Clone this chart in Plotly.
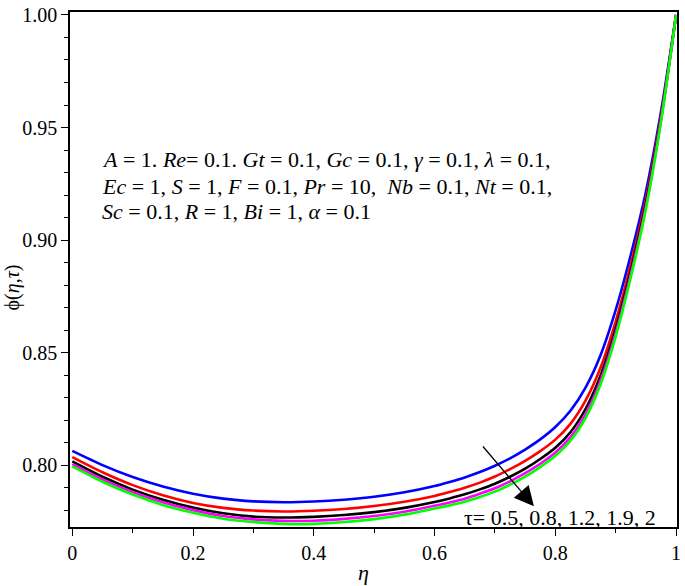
import plotly.graph_objects as go

eta = [0, 0.05, 0.1, 0.15, 0.2, 0.25, 0.3, 0.35, 0.4, 0.45, 0.5, 0.55, 0.6, 0.625, 0.65,
       0.675, 0.7, 0.725, 0.75, 0.775, 0.8, 0.825, 0.85, 0.875, 0.9, 0.925, 0.95, 0.975, 1.0]

phi_tau_05 = [0.8064, 0.8001, 0.7948, 0.7906, 0.7874, 0.7852, 0.7840, 0.7836, 0.7839, 0.7847,
              0.7860, 0.7880, 0.7908, 0.7926, 0.7946, 0.7970, 0.7998, 0.8031, 0.8070, 0.8115,
              0.8170, 0.8242, 0.8345, 0.8490, 0.8690, 0.8935, 0.9215, 0.9570, 1.0000]
phi_tau_08 = [0.8036, 0.7969, 0.7912, 0.7867, 0.7833, 0.7811, 0.7799, 0.7795, 0.7798, 0.7806,
              0.7819, 0.7838, 0.7864, 0.7881, 0.7900, 0.7923, 0.7950, 0.7983, 0.8020, 0.8063,
              0.8114, 0.8184, 0.8287, 0.8434, 0.8639, 0.8892, 0.9182, 0.9551, 1.0000]
phi_tau_12 = [0.8017, 0.7949, 0.7892, 0.7847, 0.7812, 0.7787, 0.7772, 0.7768, 0.7771, 0.7779,
              0.7792, 0.7811, 0.7837, 0.7853, 0.7871, 0.7893, 0.7918, 0.7949, 0.7985, 0.8028,
              0.8078, 0.8147, 0.8250, 0.8399, 0.8607, 0.8865, 0.9161, 0.9539, 1.0000]
phi_tau_19 = [0.8005, 0.7937, 0.7881, 0.7836, 0.7801, 0.7775, 0.7760, 0.7753, 0.7754, 0.7762,
              0.7775, 0.7794, 0.7820, 0.7835, 0.7852, 0.7874, 0.7898, 0.7929, 0.7965, 0.8007,
              0.8057, 0.8125, 0.8227, 0.8377, 0.8587, 0.8848, 0.9148, 0.9532, 1.0000]
phi_tau_2 = [0.7995, 0.7927, 0.7870, 0.7824, 0.7789, 0.7763, 0.7748, 0.7740, 0.7740, 0.7748,
             0.7761, 0.7781, 0.7808, 0.7822, 0.7838, 0.7859, 0.7883, 0.7914, 0.7950, 0.7992,
             0.8042, 0.8109, 0.8210, 0.8360, 0.8572, 0.8835, 0.9138, 0.9526, 1.0000]

series = [("τ=0.5", phi_tau_05, "#0000FF"),
          ("τ=0.8", phi_tau_08, "#FF0000"),
          ("τ=1.2", phi_tau_12, "#000000"),
          ("τ=1.9", phi_tau_19, "#FF00FF"),
          ("τ=2", phi_tau_2, "#00FF00")]

x_tickvals = [0, 0.2, 0.4, 0.6, 0.8, 1.0]
x_ticktext = ["0", "0.2", "0.4", "0.6", "0.8", "1"]
y_tickvals = [0.80, 0.85, 0.90, 0.95, 1.00]
y_ticktext = ["0.80", "0.85", "0.90", "0.95", "1.00"]

param_lines = [
    "<i>A</i> = 1. <i>Re</i>= 0.1. <i>Gt</i> = 0.1, <i>Gc</i> = 0.1, <i>γ</i> = 0.1, <i>λ</i> = 0.1,",
    "<i>Ec</i> = 1, <i>S</i> = 1, <i>F</i> = 0.1, <i>Pr</i> = 10,  <i>Nb</i> = 0.1, <i>Nt</i> = 0.1,",
    "<i>Sc</i> = 0.1, <i>R</i> = 1, <i>Bi</i> = 1, <i>α</i> = 0.1",
]
tau_label = "τ= 0.5, 0.8, 1.2, 1.9, 2"

FONT = "Liberation Serif, Times New Roman, serif"

fig = go.Figure()
for name, vals, color in series:
    fig.add_trace(go.Scatter(x=eta, y=vals, mode="lines", name=name,
                             line=dict(color=color, width=2.6, shape="spline", smoothing=0.8)))

axis_common = dict(showline=True, linecolor="black", linewidth=1.5, mirror=True,
                   ticks="outside", ticklen=7, tickwidth=1.2, tickcolor="black",
                   showgrid=False, zeroline=False, ticklabeloverflow="allow",
                   tickfont=dict(family=FONT, size=20, color="black"))

fig.update_layout(
    width=685, height=586,
    margin=dict(l=70, r=4, t=5, b=59),
    paper_bgcolor="white", plot_bgcolor="white",
    showlegend=False,
    xaxis=dict(range=[-0.0038, 1.0015], tickvals=x_tickvals, ticktext=x_ticktext,
               minor=dict(dtick=0.1, ticks="outside", ticklen=4, tickcolor="black", tickwidth=1),
               **axis_common),
    yaxis=dict(range=[0.7726, 1.0013], tickvals=y_tickvals, ticktext=y_ticktext,
               minor=dict(dtick=0.01, ticks="outside", ticklen=4, tickcolor="black", tickwidth=1),
               **axis_common),
)

ys = [0.7145, 0.661, 0.613]
for txt, yy in zip(param_lines, ys):
    fig.add_annotation(x=0.049, y=yy, xref="paper", yref="paper", text=txt, showarrow=False,
                       xanchor="left", yanchor="middle",
                       font=dict(family=FONT, size=22, color="black"))

fig.add_annotation(x=0.6465, y=0.019, xref="paper", yref="paper", text=tau_label,
                   showarrow=False, xanchor="left", yanchor="middle",
                   font=dict(family=FONT, size=22, color="black"))

# arrow
fig.add_annotation(x=0.7645, y=0.7818, ax=0.678, ay=0.8090, xref="x", yref="y",
                   axref="x", ayref="y", text="", showarrow=True,
                   arrowhead=2, arrowsize=3, arrowwidth=1.3, arrowcolor="black")

# axis titles
fig.add_annotation(x=0.484, y=-0.088, xref="paper", yref="paper", text="<i>η</i>",
                   showarrow=False, xanchor="center", yanchor="middle",
                   font=dict(family=FONT, size=22, color="black"))
fig.add_annotation(x=-0.094, y=0.465, xref="paper", yref="paper", text="ϕ(<i>η</i>,<i>τ</i>)",
                   showarrow=False, xanchor="center", yanchor="middle", textangle=-90,
                   font=dict(family=FONT, size=20, color="black"))

fig.write_html("out.html", config={"displayModeBar": False},
               post_script="document.body.style.margin='0px';")
